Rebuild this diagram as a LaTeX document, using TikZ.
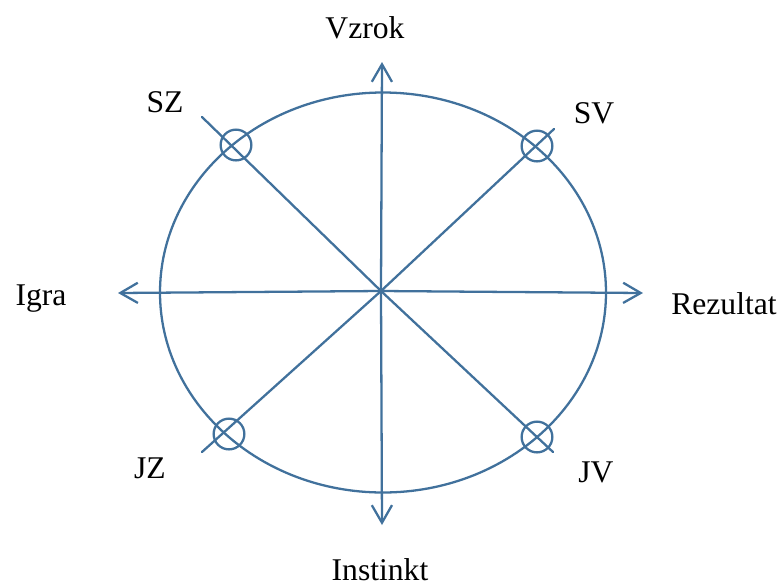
\documentclass[tikz,border=0pt]{standalone}
\usepackage{fontspec}
\setmainfont{Liberation Serif}
\usepackage{xcolor}
\usetikzlibrary{arrows.meta, positioning}

\definecolor{osblue}{RGB}{65,113,156}

\begin{document}
\begin{tikzpicture}[
        x=0.02cm,
        y=-0.02cm,
        line join=round,
        line cap=round,
        crta/.style={draw=osblue, line width=1.3pt},
        puscica/.style={crta, -{Straight Barb[length=10pt, width=11.5pt, line width=1.3pt]}},
        krogec/.style={crta, circle, minimum size=17.5pt, inner sep=0pt},
        oznaka/.style={font=\fontsize{18}{20}\selectfont, inner sep=0pt, anchor=base}
    ]

        \useasboundingbox (0,0) rectangle (779,586);

        % =================================
        % SREDISCE IN KONCI
        % =================================
        \coordinate (O) at (381,291);

        \coordinate (Zg) at (382,62);
        \coordinate (Sp) at (382,525);
        \coordinate (Le) at (118,293);
        \coordinate (De) at (643,293);

        \coordinate (SZk) at (202,117);
        \coordinate (SVk) at (554,129);
        \coordinate (JZk) at (202,452);
        \coordinate (JVk) at (553,452);


        % =================================
        % ELIPSA
        % =================================
        \draw[crta] (383,292.5) ellipse [x radius=223, y radius=200];


        % =================================
        % OSI S PUSCICAMI
        % =================================

        % navpicna os
        \draw[puscica] (O) -- (Zg);
        \draw[puscica] (O) -- (Sp);

        % vodoravna os
        \draw[puscica] (O) -- (Le);
        \draw[puscica] (O) -- (De);


        % =================================
        % DIAGONALE
        % =================================
        \draw[crta] (O) -- (SZk);
        \draw[crta] (O) -- (SVk);
        \draw[crta] (O) -- (JZk);
        \draw[crta] (O) -- (JVk);


        % =================================
        % KROGCI
        % =================================
        \node[krogec] (kSZ) at (236,145) {};
        \node[krogec] (kSV) at (537,146) {};
        \node[krogec] (kJZ) at (229,434) {};
        \node[krogec] (kJV) at (537,437) {};


        % =================================
        % NAPISI
        % =================================
        \node[oznaka] (vzrok) at (365,38) {Vzrok};
        \node[oznaka] (instinkt) at (380,580) {Instinkt};
        \node[oznaka] (igra) at (41,305) {Igra};
        \node[oznaka] (rezultat) at (724,314) {Rezultat};

        \node[oznaka] (sz) at (165,112) {SZ};
        \node[oznaka] (sv) at (594,123) {SV};
        \node[oznaka] (jz) at (150,478) {JZ};
        \node[oznaka] (jv) at (596,482) {JV};

    \end{tikzpicture}
\end{document}
